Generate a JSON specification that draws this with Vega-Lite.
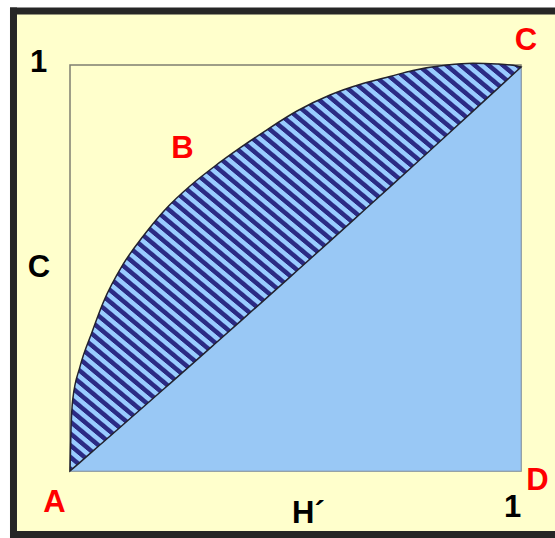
{
  "$schema": "https://vega.github.io/schema/vega-lite/v6.json",
  "width": 451,
  "height": 406,
  "autosize": "none",
  "padding": {"left": 70, "top": 65, "right": 34, "bottom": 67},
  "background": "#ffffff",
  "config": {"view": {"stroke": null}, "font": "Liberation Sans"},
  "datasets": {
    "curve": [
      {"x": 0, "cy": 0, "dy": 0},
      {"x": 0.0022, "cy": 0.101, "dy": 0.002},
      {"x": 0.006, "cy": 0.175, "dy": 0.0058},
      {"x": 0.0222, "cy": 0.257, "dy": 0.0214},
      {"x": 0.0481, "cy": 0.34, "dy": 0.0465},
      {"x": 0.0732, "cy": 0.4138, "dy": 0.0708},
      {"x": 0.1182, "cy": 0.5099, "dy": 0.1145},
      {"x": 0.1625, "cy": 0.5788, "dy": 0.1576},
      {"x": 0.2144, "cy": 0.6478, "dy": 0.2083},
      {"x": 0.2661, "cy": 0.702, "dy": 0.2589},
      {"x": 0.3215, "cy": 0.7512, "dy": 0.3134},
      {"x": 0.3769, "cy": 0.7956, "dy": 0.368},
      {"x": 0.4324, "cy": 0.8374, "dy": 0.4228},
      {"x": 0.5033, "cy": 0.8867, "dy": 0.4933},
      {"x": 0.5765, "cy": 0.9261, "dy": 0.5663},
      {"x": 0.6497, "cy": 0.9544, "dy": 0.6397},
      {"x": 0.7095, "cy": 0.9717, "dy": 0.6997},
      {"x": 0.7605, "cy": 0.9865, "dy": 0.7512},
      {"x": 0.8359, "cy": 1.0, "dy": 0.8276},
      {"x": 0.8936, "cy": 1.0042, "dy": 0.8863},
      {"x": 0.9468, "cy": 1.0025, "dy": 0.9406},
      {"x": 0.9911, "cy": 0.9975, "dy": 0.9858},
      {"x": 1, "cy": 0.995, "dy": 0.995}
    ]
  },
  "layer": [
    {
      "data": {"values": [{"x": -0.1253, "x2": 1.0754, "y": 1.133, "y2": -0.1564}]},
      "mark": {"type": "rect", "fill": "#ffffcc"},
      "encoding": {
        "x": {"field": "x", "type": "quantitative", "scale": {"domain": [0, 1], "nice": false, "zero": false}, "axis": null},
        "x2": {"field": "x2"},
        "y": {"field": "y", "type": "quantitative", "scale": {"domain": [0, 1], "nice": false, "zero": false}, "axis": null},
        "y2": {"field": "y2"}
      }
    },
    {
      "data": {"values": [
        {"x": -0.133, "x2": 1.0754, "y": 1.133, "y2": 1.133},
        {"x": -0.1253, "x2": -0.1253, "y": 1.1416, "y2": -0.165},
        {"x": -0.133, "x2": 1.0754, "y": -0.1564, "y2": -0.1564}
      ]},
      "mark": {"type": "rule", "color": "#262626", "strokeWidth": 7, "strokeCap": "butt"},
      "encoding": {
        "x": {"field": "x", "type": "quantitative", "scale": {"domain": [0, 1], "nice": false, "zero": false}, "axis": null},
        "x2": {"field": "x2"},
        "y": {"field": "y", "type": "quantitative", "scale": {"domain": [0, 1], "nice": false, "zero": false}, "axis": null},
        "y2": {"field": "y2"}
      }
    },
    {
      "data": {"values": [{"x": 0, "x2": 1, "y": 0, "y2": 1}]},
      "mark": {"type": "rect", "fill": "#ffffcc", "fillOpacity": 0, "stroke": "#7f7f70", "strokeWidth": 1.5},
      "encoding": {
        "x": {"field": "x", "type": "quantitative", "scale": {"domain": [0, 1], "nice": false, "zero": false}, "axis": null},
        "x2": {"field": "x2"},
        "y": {"field": "y", "type": "quantitative", "scale": {"domain": [0, 1], "nice": false, "zero": false}, "axis": null},
        "y2": {"field": "y2"}
      }
    },
    {
      "data": {"name": "curve"},
      "mark": {"type": "area", "interpolate": "monotone", "fill": "#99c8f5", "stroke": "#8da7c6", "strokeWidth": 1},
      "encoding": {
        "x": {"field": "x", "type": "quantitative", "scale": {"domain": [0, 1], "nice": false, "zero": false}, "axis": null},
        "y": {"field": "dy", "type": "quantitative", "scale": {"domain": [0, 1], "nice": false, "zero": false}, "axis": null},
        "y2": {"datum": 0}
      }
    },
    {
      "data": {"name": "curve"},
      "mark": {
        "type": "area", "interpolate": "monotone", "stroke": "#22222e", "strokeWidth": 1.5,
        "fill": {
          "gradient": "linear", "x1": 0, "y1": 1, "x2": 1.1521, "y2": -0.2444,
          "stops": [
            {"offset": 0, "color": "#2b2b84"}, {"offset": 0.005, "color": "#2b2b84"}, {"offset": 0.0065, "color": "#99ccff"}, {"offset": 0.0115, "color": "#99ccff"},
            {"offset": 0.0125, "color": "#2b2b84"}, {"offset": 0.0175, "color": "#2b2b84"}, {"offset": 0.019, "color": "#99ccff"}, {"offset": 0.024, "color": "#99ccff"},
            {"offset": 0.025, "color": "#2b2b84"}, {"offset": 0.03, "color": "#2b2b84"}, {"offset": 0.0315, "color": "#99ccff"}, {"offset": 0.0365, "color": "#99ccff"},
            {"offset": 0.0375, "color": "#2b2b84"}, {"offset": 0.0425, "color": "#2b2b84"}, {"offset": 0.044, "color": "#99ccff"}, {"offset": 0.049, "color": "#99ccff"},
            {"offset": 0.05, "color": "#2b2b84"}, {"offset": 0.055, "color": "#2b2b84"}, {"offset": 0.0565, "color": "#99ccff"}, {"offset": 0.0615, "color": "#99ccff"},
            {"offset": 0.0625, "color": "#2b2b84"}, {"offset": 0.0675, "color": "#2b2b84"}, {"offset": 0.069, "color": "#99ccff"}, {"offset": 0.074, "color": "#99ccff"},
            {"offset": 0.075, "color": "#2b2b84"}, {"offset": 0.08, "color": "#2b2b84"}, {"offset": 0.0815, "color": "#99ccff"}, {"offset": 0.0865, "color": "#99ccff"},
            {"offset": 0.0875, "color": "#2b2b84"}, {"offset": 0.0925, "color": "#2b2b84"}, {"offset": 0.094, "color": "#99ccff"}, {"offset": 0.099, "color": "#99ccff"},
            {"offset": 0.1, "color": "#2b2b84"}, {"offset": 0.105, "color": "#2b2b84"}, {"offset": 0.1065, "color": "#99ccff"}, {"offset": 0.1115, "color": "#99ccff"},
            {"offset": 0.1125, "color": "#2b2b84"}, {"offset": 0.1175, "color": "#2b2b84"}, {"offset": 0.119, "color": "#99ccff"}, {"offset": 0.124, "color": "#99ccff"},
            {"offset": 0.125, "color": "#2b2b84"}, {"offset": 0.13, "color": "#2b2b84"}, {"offset": 0.1315, "color": "#99ccff"}, {"offset": 0.1365, "color": "#99ccff"},
            {"offset": 0.1375, "color": "#2b2b84"}, {"offset": 0.1425, "color": "#2b2b84"}, {"offset": 0.144, "color": "#99ccff"}, {"offset": 0.149, "color": "#99ccff"},
            {"offset": 0.15, "color": "#2b2b84"}, {"offset": 0.155, "color": "#2b2b84"}, {"offset": 0.1565, "color": "#99ccff"}, {"offset": 0.1615, "color": "#99ccff"},
            {"offset": 0.1625, "color": "#2b2b84"}, {"offset": 0.1675, "color": "#2b2b84"}, {"offset": 0.169, "color": "#99ccff"}, {"offset": 0.174, "color": "#99ccff"},
            {"offset": 0.175, "color": "#2b2b84"}, {"offset": 0.18, "color": "#2b2b84"}, {"offset": 0.1815, "color": "#99ccff"}, {"offset": 0.1865, "color": "#99ccff"},
            {"offset": 0.1875, "color": "#2b2b84"}, {"offset": 0.1925, "color": "#2b2b84"}, {"offset": 0.194, "color": "#99ccff"}, {"offset": 0.199, "color": "#99ccff"},
            {"offset": 0.2, "color": "#2b2b84"}, {"offset": 0.205, "color": "#2b2b84"}, {"offset": 0.2065, "color": "#99ccff"}, {"offset": 0.2115, "color": "#99ccff"},
            {"offset": 0.2125, "color": "#2b2b84"}, {"offset": 0.2175, "color": "#2b2b84"}, {"offset": 0.219, "color": "#99ccff"}, {"offset": 0.224, "color": "#99ccff"},
            {"offset": 0.225, "color": "#2b2b84"}, {"offset": 0.23, "color": "#2b2b84"}, {"offset": 0.2315, "color": "#99ccff"}, {"offset": 0.2365, "color": "#99ccff"},
            {"offset": 0.2375, "color": "#2b2b84"}, {"offset": 0.2425, "color": "#2b2b84"}, {"offset": 0.244, "color": "#99ccff"}, {"offset": 0.249, "color": "#99ccff"},
            {"offset": 0.25, "color": "#2b2b84"}, {"offset": 0.255, "color": "#2b2b84"}, {"offset": 0.2565, "color": "#99ccff"}, {"offset": 0.2615, "color": "#99ccff"},
            {"offset": 0.2625, "color": "#2b2b84"}, {"offset": 0.2675, "color": "#2b2b84"}, {"offset": 0.269, "color": "#99ccff"}, {"offset": 0.274, "color": "#99ccff"},
            {"offset": 0.275, "color": "#2b2b84"}, {"offset": 0.28, "color": "#2b2b84"}, {"offset": 0.2815, "color": "#99ccff"}, {"offset": 0.2865, "color": "#99ccff"},
            {"offset": 0.2875, "color": "#2b2b84"}, {"offset": 0.2925, "color": "#2b2b84"}, {"offset": 0.294, "color": "#99ccff"}, {"offset": 0.299, "color": "#99ccff"},
            {"offset": 0.3, "color": "#2b2b84"}, {"offset": 0.305, "color": "#2b2b84"}, {"offset": 0.3065, "color": "#99ccff"}, {"offset": 0.3115, "color": "#99ccff"},
            {"offset": 0.3125, "color": "#2b2b84"}, {"offset": 0.3175, "color": "#2b2b84"}, {"offset": 0.319, "color": "#99ccff"}, {"offset": 0.324, "color": "#99ccff"},
            {"offset": 0.325, "color": "#2b2b84"}, {"offset": 0.33, "color": "#2b2b84"}, {"offset": 0.3315, "color": "#99ccff"}, {"offset": 0.3365, "color": "#99ccff"},
            {"offset": 0.3375, "color": "#2b2b84"}, {"offset": 0.3425, "color": "#2b2b84"}, {"offset": 0.344, "color": "#99ccff"}, {"offset": 0.349, "color": "#99ccff"},
            {"offset": 0.35, "color": "#2b2b84"}, {"offset": 0.355, "color": "#2b2b84"}, {"offset": 0.3565, "color": "#99ccff"}, {"offset": 0.3615, "color": "#99ccff"},
            {"offset": 0.3625, "color": "#2b2b84"}, {"offset": 0.3675, "color": "#2b2b84"}, {"offset": 0.369, "color": "#99ccff"}, {"offset": 0.374, "color": "#99ccff"},
            {"offset": 0.375, "color": "#2b2b84"}, {"offset": 0.38, "color": "#2b2b84"}, {"offset": 0.3815, "color": "#99ccff"}, {"offset": 0.3865, "color": "#99ccff"},
            {"offset": 0.3875, "color": "#2b2b84"}, {"offset": 0.3925, "color": "#2b2b84"}, {"offset": 0.394, "color": "#99ccff"}, {"offset": 0.399, "color": "#99ccff"},
            {"offset": 0.4, "color": "#2b2b84"}, {"offset": 0.405, "color": "#2b2b84"}, {"offset": 0.4065, "color": "#99ccff"}, {"offset": 0.4115, "color": "#99ccff"},
            {"offset": 0.4125, "color": "#2b2b84"}, {"offset": 0.4175, "color": "#2b2b84"}, {"offset": 0.419, "color": "#99ccff"}, {"offset": 0.424, "color": "#99ccff"},
            {"offset": 0.425, "color": "#2b2b84"}, {"offset": 0.43, "color": "#2b2b84"}, {"offset": 0.4315, "color": "#99ccff"}, {"offset": 0.4365, "color": "#99ccff"},
            {"offset": 0.4375, "color": "#2b2b84"}, {"offset": 0.4425, "color": "#2b2b84"}, {"offset": 0.444, "color": "#99ccff"}, {"offset": 0.449, "color": "#99ccff"},
            {"offset": 0.45, "color": "#2b2b84"}, {"offset": 0.455, "color": "#2b2b84"}, {"offset": 0.4565, "color": "#99ccff"}, {"offset": 0.4615, "color": "#99ccff"},
            {"offset": 0.4625, "color": "#2b2b84"}, {"offset": 0.4675, "color": "#2b2b84"}, {"offset": 0.469, "color": "#99ccff"}, {"offset": 0.474, "color": "#99ccff"},
            {"offset": 0.475, "color": "#2b2b84"}, {"offset": 0.48, "color": "#2b2b84"}, {"offset": 0.4815, "color": "#99ccff"}, {"offset": 0.4865, "color": "#99ccff"},
            {"offset": 0.4875, "color": "#2b2b84"}, {"offset": 0.4925, "color": "#2b2b84"}, {"offset": 0.494, "color": "#99ccff"}, {"offset": 0.499, "color": "#99ccff"},
            {"offset": 0.5, "color": "#2b2b84"}, {"offset": 0.505, "color": "#2b2b84"}, {"offset": 0.5065, "color": "#99ccff"}, {"offset": 0.5115, "color": "#99ccff"},
            {"offset": 0.5125, "color": "#2b2b84"}, {"offset": 0.5175, "color": "#2b2b84"}, {"offset": 0.519, "color": "#99ccff"}, {"offset": 0.524, "color": "#99ccff"},
            {"offset": 0.525, "color": "#2b2b84"}, {"offset": 0.53, "color": "#2b2b84"}, {"offset": 0.5315, "color": "#99ccff"}, {"offset": 0.5365, "color": "#99ccff"},
            {"offset": 0.5375, "color": "#2b2b84"}, {"offset": 0.5425, "color": "#2b2b84"}, {"offset": 0.544, "color": "#99ccff"}, {"offset": 0.549, "color": "#99ccff"},
            {"offset": 0.55, "color": "#2b2b84"}, {"offset": 0.555, "color": "#2b2b84"}, {"offset": 0.5565, "color": "#99ccff"}, {"offset": 0.5615, "color": "#99ccff"},
            {"offset": 0.5625, "color": "#2b2b84"}, {"offset": 0.5675, "color": "#2b2b84"}, {"offset": 0.569, "color": "#99ccff"}, {"offset": 0.574, "color": "#99ccff"},
            {"offset": 0.575, "color": "#2b2b84"}, {"offset": 0.58, "color": "#2b2b84"}, {"offset": 0.5815, "color": "#99ccff"}, {"offset": 0.5865, "color": "#99ccff"},
            {"offset": 0.5875, "color": "#2b2b84"}, {"offset": 0.5925, "color": "#2b2b84"}, {"offset": 0.594, "color": "#99ccff"}, {"offset": 0.599, "color": "#99ccff"},
            {"offset": 0.6, "color": "#2b2b84"}, {"offset": 0.605, "color": "#2b2b84"}, {"offset": 0.6065, "color": "#99ccff"}, {"offset": 0.6115, "color": "#99ccff"},
            {"offset": 0.6125, "color": "#2b2b84"}, {"offset": 0.6175, "color": "#2b2b84"}, {"offset": 0.619, "color": "#99ccff"}, {"offset": 0.624, "color": "#99ccff"},
            {"offset": 0.625, "color": "#2b2b84"}, {"offset": 0.63, "color": "#2b2b84"}, {"offset": 0.6315, "color": "#99ccff"}, {"offset": 0.6365, "color": "#99ccff"},
            {"offset": 0.6375, "color": "#2b2b84"}, {"offset": 0.6425, "color": "#2b2b84"}, {"offset": 0.644, "color": "#99ccff"}, {"offset": 0.649, "color": "#99ccff"},
            {"offset": 0.65, "color": "#2b2b84"}, {"offset": 0.655, "color": "#2b2b84"}, {"offset": 0.6565, "color": "#99ccff"}, {"offset": 0.6615, "color": "#99ccff"},
            {"offset": 0.6625, "color": "#2b2b84"}, {"offset": 0.6675, "color": "#2b2b84"}, {"offset": 0.669, "color": "#99ccff"}, {"offset": 0.674, "color": "#99ccff"},
            {"offset": 0.675, "color": "#2b2b84"}, {"offset": 0.68, "color": "#2b2b84"}, {"offset": 0.6815, "color": "#99ccff"}, {"offset": 0.6865, "color": "#99ccff"},
            {"offset": 0.6875, "color": "#2b2b84"}, {"offset": 0.6925, "color": "#2b2b84"}, {"offset": 0.694, "color": "#99ccff"}, {"offset": 0.699, "color": "#99ccff"},
            {"offset": 0.7, "color": "#2b2b84"}, {"offset": 0.705, "color": "#2b2b84"}, {"offset": 0.7065, "color": "#99ccff"}, {"offset": 0.7115, "color": "#99ccff"},
            {"offset": 0.7125, "color": "#2b2b84"}, {"offset": 0.7175, "color": "#2b2b84"}, {"offset": 0.719, "color": "#99ccff"}, {"offset": 0.724, "color": "#99ccff"},
            {"offset": 0.725, "color": "#2b2b84"}, {"offset": 0.73, "color": "#2b2b84"}, {"offset": 0.7315, "color": "#99ccff"}, {"offset": 0.7365, "color": "#99ccff"},
            {"offset": 0.7375, "color": "#2b2b84"}, {"offset": 0.7425, "color": "#2b2b84"}, {"offset": 0.744, "color": "#99ccff"}, {"offset": 0.749, "color": "#99ccff"},
            {"offset": 0.75, "color": "#2b2b84"}, {"offset": 0.755, "color": "#2b2b84"}, {"offset": 0.7565, "color": "#99ccff"}, {"offset": 0.7615, "color": "#99ccff"},
            {"offset": 0.7625, "color": "#2b2b84"}, {"offset": 0.7675, "color": "#2b2b84"}, {"offset": 0.769, "color": "#99ccff"}, {"offset": 0.774, "color": "#99ccff"},
            {"offset": 0.775, "color": "#2b2b84"}, {"offset": 0.78, "color": "#2b2b84"}, {"offset": 0.7815, "color": "#99ccff"}, {"offset": 0.7865, "color": "#99ccff"},
            {"offset": 0.7875, "color": "#2b2b84"}, {"offset": 0.7925, "color": "#2b2b84"}, {"offset": 0.794, "color": "#99ccff"}, {"offset": 0.799, "color": "#99ccff"},
            {"offset": 0.8, "color": "#2b2b84"}, {"offset": 0.805, "color": "#2b2b84"}, {"offset": 0.8065, "color": "#99ccff"}, {"offset": 0.8115, "color": "#99ccff"},
            {"offset": 0.8125, "color": "#2b2b84"}, {"offset": 0.8175, "color": "#2b2b84"}, {"offset": 0.819, "color": "#99ccff"}, {"offset": 0.824, "color": "#99ccff"},
            {"offset": 0.825, "color": "#2b2b84"}, {"offset": 0.83, "color": "#2b2b84"}, {"offset": 0.8315, "color": "#99ccff"}, {"offset": 0.8365, "color": "#99ccff"},
            {"offset": 0.8375, "color": "#2b2b84"}, {"offset": 0.8425, "color": "#2b2b84"}, {"offset": 0.844, "color": "#99ccff"}, {"offset": 0.849, "color": "#99ccff"},
            {"offset": 0.85, "color": "#2b2b84"}, {"offset": 0.855, "color": "#2b2b84"}, {"offset": 0.8565, "color": "#99ccff"}, {"offset": 0.8615, "color": "#99ccff"},
            {"offset": 0.8625, "color": "#2b2b84"}, {"offset": 0.8675, "color": "#2b2b84"}, {"offset": 0.869, "color": "#99ccff"}, {"offset": 0.874, "color": "#99ccff"},
            {"offset": 0.875, "color": "#2b2b84"}, {"offset": 0.88, "color": "#2b2b84"}, {"offset": 0.8815, "color": "#99ccff"}, {"offset": 0.8865, "color": "#99ccff"},
            {"offset": 0.8875, "color": "#2b2b84"}, {"offset": 0.8925, "color": "#2b2b84"}, {"offset": 0.894, "color": "#99ccff"}, {"offset": 0.899, "color": "#99ccff"},
            {"offset": 0.9, "color": "#2b2b84"}, {"offset": 0.905, "color": "#2b2b84"}, {"offset": 0.9065, "color": "#99ccff"}, {"offset": 0.9115, "color": "#99ccff"},
            {"offset": 0.9125, "color": "#2b2b84"}, {"offset": 0.9175, "color": "#2b2b84"}, {"offset": 0.919, "color": "#99ccff"}, {"offset": 0.924, "color": "#99ccff"},
            {"offset": 0.925, "color": "#2b2b84"}, {"offset": 0.93, "color": "#2b2b84"}, {"offset": 0.9315, "color": "#99ccff"}, {"offset": 0.9365, "color": "#99ccff"},
            {"offset": 0.9375, "color": "#2b2b84"}, {"offset": 0.9425, "color": "#2b2b84"}, {"offset": 0.944, "color": "#99ccff"}, {"offset": 0.949, "color": "#99ccff"},
            {"offset": 0.95, "color": "#2b2b84"}, {"offset": 0.955, "color": "#2b2b84"}, {"offset": 0.9565, "color": "#99ccff"}, {"offset": 0.9615, "color": "#99ccff"},
            {"offset": 0.9625, "color": "#2b2b84"}, {"offset": 0.9675, "color": "#2b2b84"}, {"offset": 0.969, "color": "#99ccff"}, {"offset": 0.974, "color": "#99ccff"},
            {"offset": 0.975, "color": "#2b2b84"}, {"offset": 0.98, "color": "#2b2b84"}, {"offset": 0.9815, "color": "#99ccff"}, {"offset": 0.9865, "color": "#99ccff"},
            {"offset": 0.9875, "color": "#2b2b84"}, {"offset": 0.9925, "color": "#2b2b84"}, {"offset": 0.994, "color": "#99ccff"}, {"offset": 1, "color": "#99ccff"}
          ]
        }
      },
      "encoding": {
        "x": {"field": "x", "type": "quantitative", "scale": {"domain": [0, 1], "nice": false, "zero": false}, "axis": null},
        "y": {"field": "cy", "type": "quantitative", "scale": {"domain": [0, 1], "nice": false, "zero": false}, "axis": null},
        "y2": {"field": "dy"}
      }
    },
    {
      "data": {"values": [
        {"label": "A", "x": -0.0344, "y": -0.101},
        {"label": "B", "x": 0.2494, "y": 0.7709},
        {"label": "C", "x": 1.0111, "y": 1.0369},
        {"label": "D", "x": 1.0366, "y": -0.0468}
      ]},
      "mark": {"type": "text", "font": "Liberation Sans", "fontSize": 31, "fontWeight": "bold", "color": "#ff0000", "align": "center", "baseline": "alphabetic"},
      "encoding": {
        "x": {"field": "x", "type": "quantitative", "scale": {"domain": [0, 1], "nice": false, "zero": false}, "axis": null},
        "y": {"field": "y", "type": "quantitative", "scale": {"domain": [0, 1], "nice": false, "zero": false}, "axis": null},
        "text": {"field": "label"}
      }
    },
    {
      "data": {"values": [
        {"label": "1", "x": -0.0698, "y": 0.9828},
        {"label": "C", "x": -0.0687, "y": 0.4778},
        {"label": "H´", "x": 0.5286, "y": -0.1281},
        {"label": "1", "x": 0.9812, "y": -0.1133}
      ]},
      "mark": {"type": "text", "font": "Liberation Sans", "fontSize": 31, "fontWeight": "bold", "color": "#000000", "align": "center", "baseline": "alphabetic"},
      "encoding": {
        "x": {"field": "x", "type": "quantitative", "scale": {"domain": [0, 1], "nice": false, "zero": false}, "axis": null},
        "y": {"field": "y", "type": "quantitative", "scale": {"domain": [0, 1], "nice": false, "zero": false}, "axis": null},
        "text": {"field": "label"}
      }
    }
  ]
}
